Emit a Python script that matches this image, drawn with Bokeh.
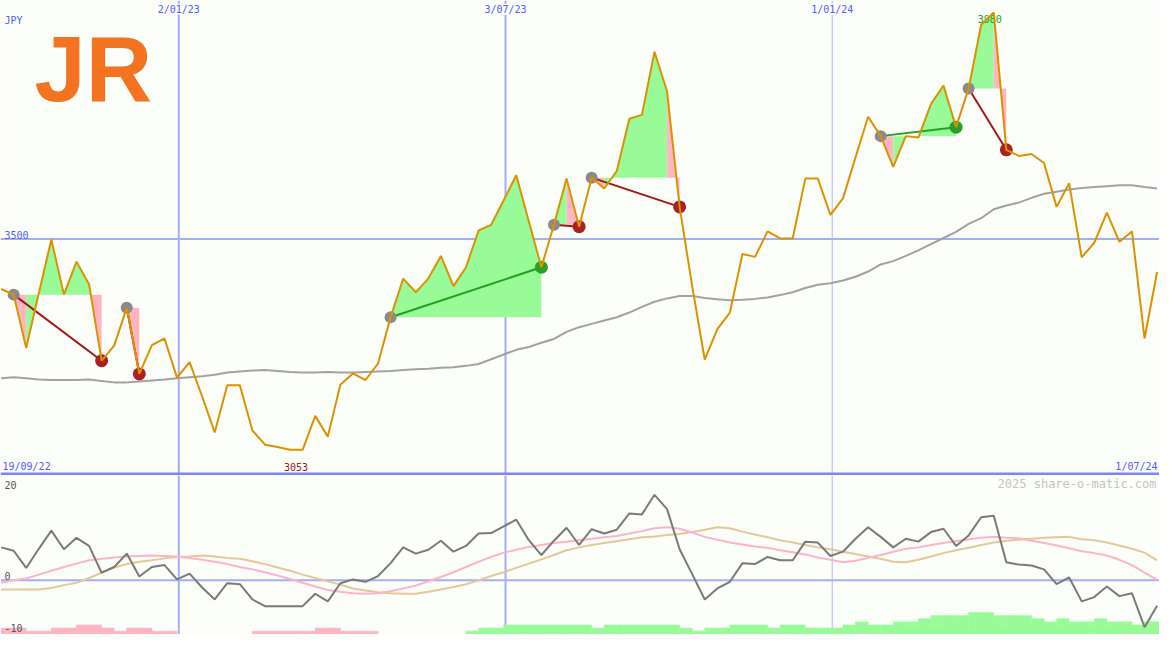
import numpy as np
import pandas as pd
from bokeh.plotting import figure
from bokeh.models import Range1d, Span, Label
from bokeh.layouts import column
from bokeh.embed import file_html
from bokeh.resources import INLINE
from bokeh.core.properties import value

# ---------------- data ----------------
dates = pd.date_range("2022-09-25", periods=93, freq="7D")

price = [3394, 3382, 3269, 3385, 3499, 3382, 3452, 3404, 3242, 3274,
         3354, 3214, 3275, 3289, 3206, 3239, 3166, 3090, 3190, 3190,
         3094, 3064, 3059, 3053, 3053, 3125, 3081, 3191, 3215, 3201,
         3236, 3334, 3416, 3387, 3416, 3464, 3400, 3440, 3518, 3530,
         3582, 3635, 3537, 3440, 3530, 3628, 3526, 3630, 3607, 3644,
         3755, 3763, 3897, 3813, 3568, 3400, 3244, 3309, 3344, 3468,
         3462, 3516, 3501, 3501, 3628, 3628, 3551, 3586, 3673, 3759,
         3718, 3653, 3718, 3715, 3786, 3825, 3737, 3819, 3954, 3980,
         3689, 3676, 3680, 3661, 3568, 3618, 3461, 3492, 3556, 3494,
         3516, 3289, 3430]

ma52 = [3205, 3207, 3205, 3202, 3201, 3201, 3201, 3202, 3199, 3196,
        3196, 3198, 3200, 3202, 3205, 3207, 3209, 3212, 3217, 3219,
        3221, 3222, 3220, 3218, 3217, 3217, 3218, 3217, 3217, 3218,
        3219, 3220, 3222, 3224, 3225, 3227, 3228, 3231, 3235, 3245,
        3255, 3265, 3271, 3280, 3288, 3303, 3313, 3320, 3327, 3334,
        3344, 3356, 3367, 3374, 3379, 3379, 3375, 3372, 3370, 3371,
        3373, 3376, 3381, 3387, 3396, 3403, 3406, 3412, 3420, 3431,
        3446, 3453, 3464, 3476, 3489, 3502, 3515, 3532, 3544, 3563,
        3571, 3577, 3587, 3596, 3600, 3605, 3608, 3610, 3612, 3614,
        3614, 3610, 3607]

osc = [6.9, 6.2, 2.6, 6.6, 10.4, 6.5, 8.9, 7.2, 1.6, 2.8,
       5.6, 0.8, 2.8, 3.2, 0.2, 1.4, -1.5, -4.0, -0.6, -0.8,
       -4.0, -5.4, -5.4, -5.4, -5.4, -2.8, -4.4, -0.6, 0.2, -0.3,
       0.9, 3.6, 6.9, 5.6, 6.4, 8.3, 6.0, 7.2, 9.8, 9.9,
       11.3, 12.7, 8.4, 5.3, 8.3, 11.0, 7.4, 10.7, 9.8, 10.6,
       14.0, 13.8, 17.9, 14.9, 6.5, 1.3, -4.0, -1.7, -0.3, 3.6,
       3.4, 4.9, 4.2, 4.2, 8.1, 7.9, 5.1, 6.0, 8.7, 11.1,
       9.1, 6.9, 8.7, 8.1, 10.1, 10.8, 7.2, 9.4, 13.2, 13.5,
       3.8, 3.3, 3.1, 2.3, -0.8, 0.6, -4.4, -3.5, -1.3, -3.3,
       -2.7, -9.8, -5.3]

osc_fast = [-0.5, 0.0, 0.4, 1.2, 2.0, 2.8, 3.5, 4.2, 4.5, 4.8,
            5.0, 5.1, 5.2, 5.1, 5.0, 4.7, 4.3, 3.9, 3.4, 2.8,
            2.3, 1.7, 1.0, 0.3, -0.5, -1.3, -2.0, -2.4, -2.7, -2.8,
            -2.7, -2.3, -1.7, -1.1, -0.2, 0.7, 1.7, 2.8, 3.9, 4.9,
            5.8, 6.4, 7.0, 7.4, 7.8, 8.1, 8.4, 8.7, 9.0, 9.3,
            9.8, 10.3, 10.9, 11.1, 10.8, 10.0, 9.1, 8.5, 7.9, 7.5,
            7.1, 6.8, 6.3, 5.9, 5.4, 4.8, 4.3, 3.8, 4.1, 4.7,
            5.3, 6.0, 6.6, 6.9, 7.4, 7.8, 8.2, 8.6, 8.9, 9.1,
            8.9, 8.8, 8.3, 7.8, 7.3, 6.7, 6.1, 5.7, 5.2, 4.3,
            3.2, 1.6, 0.1]

osc_slow = [-1.9, -1.9, -1.9, -1.9, -1.6, -1.0, -0.5, 0.5, 1.6, 2.7,
            3.4, 3.9, 4.2, 4.6, 4.9, 5.0, 5.2, 5.0, 4.7, 4.5,
            4.0, 3.4, 2.7, 2.0, 1.2, 0.5, -0.2, -0.9, -1.7, -2.1,
            -2.5, -2.7, -2.8, -2.8, -2.4, -1.9, -1.4, -0.8, 0.0, 0.9,
            1.7, 2.6, 3.5, 4.4, 5.3, 6.3, 6.9, 7.4, 7.8, 8.2,
            8.6, 9.0, 9.2, 9.5, 9.7, 10.1, 10.6, 11.1, 10.9, 10.2,
            9.6, 9.0, 8.4, 7.9, 7.4, 6.9, 6.5, 6.0, 5.5, 5.0,
            4.5, 3.9, 3.8, 4.3, 5.0, 5.7, 6.3, 6.8, 7.4, 7.9,
            8.3, 8.5, 8.7, 8.9, 9.0, 9.1, 8.6, 8.4, 7.9, 7.3,
            6.6, 5.8, 4.2]

# signed histogram levels (+ green, - pink)
osc_bars = [-2, -2, -1, -1, -2, -2, -3, -3, -2, -1,
            -2, -2, -1, -1, 0, 0, 0, 0, 0, 0,
            -1, -1, -1, -1, -1, -2, -2, -1, -1, -1,
            0, 0, 0, 0, 0, 0, 0, 1, 2, 2,
            3, 3, 3, 3, 3, 3, 3, 2, 3, 3,
            3, 3, 3, 3, 2, 1, 2, 2, 3, 3,
            3, 2, 3, 3, 2, 2, 2, 3, 4, 3,
            3, 4, 4, 5, 6, 6, 6, 7, 7, 6,
            6, 6, 5, 4, 5, 4, 4, 5, 4, 4,
            3, 4, 4]

pat_start = [1, 10, 31, 44, 47, 70, 77]
pat_end = [8, 11, 43, 46, 54, 76, 80]

grid_dates = ["2023-01-02", "2023-07-03", "2024-01-01"]
grid_labels = ["2/01/23", "3/07/23", "1/01/24"]
first_label = "19/09/22"
last_label = "1/07/24"
price_ticks = [3500]
osc_ticks = [20, 0, -10]
currency = "JPY"
watermark = "2025 share-o-matic.com"

# ---------------- style ----------------
BG = "#fcfefa"
ORANGE = "#da9200"
GREENFILL = "#98fb98"
PINKFILL = "#ffb6c1"
MA_COL = "#a2a2a2"
DOT_GRAY = "#8a8a8a"
DOT_RED = "#a82222"
DOT_GREEN = "#28a028"
LINE_RED = "#a01818"
LINE_GREEN = "#22a022"
GRID = "#a3aef4"
GRID_THIN = "#b2b8e6"
SEP = "#7b87ee"
TXT_BLUE = "#5060f0"
OSC_GRAY = "#7a7a7a"
OSC_PINK = "#ffb3c8"
OSC_TAN = "#e3c999"
MONO = "DejaVu Sans Mono"

W = 1159
HT = 475
HB = 159
REF_T = 487.0
DAY = 86400000.0
WEEK = 7 * DAY

def ms(d):
    return pd.Timestamp(d).value / 1e6

def sy_top(yref):
    return (REF_T - yref) * HT / REF_T

x = [ms(d) for d in dates]
xr = Range1d(start=ms("2022-09-24 16:00"), end=ms("2024-07-01 08:00"))

def mkfig(h, yr):
    p = figure(width=W, height=h, x_range=xr, y_range=yr,
               x_axis_location=None, y_axis_location=None,
               toolbar_location=None, output_backend="svg", min_border=0,
               background_fill_color=BG, border_fill_color=BG,
               outline_line_color=None)
    p.grid.visible = False
    return p

# ---------------- top panel ----------------
y_lo, y_hi = 2998.6, 4005.5
p1 = mkfig(HT, Range1d(y_lo, y_hi))

for gd, w in zip(grid_dates, [2, 2, 1]):
    p1.add_layout(Span(location=ms(gd), dimension="height",
                       line_color=GRID if w == 2 else GRID_THIN,
                       line_width=w, level="underlay"))
for t in price_ticks:
    p1.add_layout(Span(location=t, dimension="width", line_color=GRID,
                       line_width=2, level="underlay"))

# pattern fills: runs of equal colour merged into one polygon each
fxs, fys, fcol = [], [], []
for s, e in zip(pat_start, pat_end):
    base = price[s]
    cols = [price[k + 1] >= base for k in range(s, e)]
    a = s
    while a < e:
        b = a
        while b + 1 < e and cols[b + 1 - s] == cols[a - s]:
            b += 1
        pts = list(range(a, b + 2))
        fxs.append([x[a]] + [x[k] for k in pts] + [x[b + 1]])
        fys.append([base] + [price[k] for k in pts] + [base])
        fcol.append(GREENFILL if cols[a - s] else PINKFILL)
        a = b + 1
p1.patches(xs=fxs, ys=fys, fill_color=fcol, line_color=None)

p1.line(x, ma52, line_color=MA_COL, line_width=2)

sx = [x[s] for s in pat_start]
sy = [price[s] for s in pat_start]
ex = [x[e] for e in pat_end]
ey = [price[e] for e in pat_end]
up = [price[e] > price[s] for s, e in zip(pat_start, pat_end)]
p1.segment(x0=sx, y0=sy, x1=ex, y1=ey,
           line_color=[LINE_GREEN if u else LINE_RED for u in up], line_width=2)
p1.scatter(sx, sy, size=12, fill_color=DOT_GRAY, line_color=None)
p1.scatter(ex, ey, size=13, fill_color=[DOT_GREEN if u else DOT_RED for u in up],
           line_color=None)

imin = int(np.argmin(price))
imax = int(np.argmax(price))
p1.text(x=[x[imax]], y=[price[imax]], text=[str(price[imax])], x_offset=-4,
        y_offset=2, text_align="center", text_baseline="top",
        text_font=value(MONO), text_font_size="10px", text_color=LINE_GREEN)

p1.line(x, price, line_color=ORANGE, line_width=2)

# labels
for gd, gl in zip(grid_dates, grid_labels):
    p1.add_layout(Label(x=ms(gd), y=sy_top(9), y_units="screen", text=gl,
                        text_align="center", text_baseline="middle",
                        text_font=MONO, text_font_size="10px",
                        text_color=TXT_BLUE, background_fill_color=BG))
p1.add_layout(Label(x=4, y=sy_top(20), x_units="screen", y_units="screen",
                    text=currency, text_baseline="middle", text_font=MONO,
                    text_font_size="10px", text_color=TXT_BLUE))
for t in price_ticks:
    p1.add_layout(Label(x=4, y=t, x_units="screen", text=str(t),
                        text_baseline="bottom", text_font=MONO,
                        text_font_size="10px", text_color=TXT_BLUE))
p1.add_layout(Label(x=2, y=sy_top(478), x_units="screen", y_units="screen",
                    text=first_label, text_baseline="middle", text_font=MONO,
                    text_font_size="10px", text_color=TXT_BLUE))
p1.add_layout(Label(x=W - 2, y=sy_top(478), x_units="screen", y_units="screen",
                    text=last_label, text_align="right", text_baseline="middle",
                    text_font=MONO, text_font_size="10px", text_color=TXT_BLUE))
p1.add_layout(Label(x=x[imin], x_offset=6, y=sy_top(478), y_units="screen",
                    text=str(price[imin]), text_align="center",
                    text_baseline="middle", text_font=MONO,
                    text_font_size="10px", text_color=LINE_RED))

# logo
p1.add_layout(Label(x=34, y=sy_top(70), x_units="screen", y_units="screen",
                    text="JR", text_font="Liberation Sans", text_font_style="bold",
                    text_font_size="92px", text_color="#f47321",
                    text_baseline="alphabetic"))

# separator
p1.add_layout(Span(location=y_lo + 1.5 * (y_hi - y_lo) / HT, dimension="width",
                   line_color=SEP, line_width=3))

# ---------------- bottom panel ----------------
p2 = mkfig(HB, Range1d(-11.33, 21.94))
p2.extra_y_ranges = {"bars": Range1d(0, 163 / 3.2)}

bl, br, bt, bc = [], [], [], []
for k, b in enumerate(osc_bars):
    if b != 0:
        bl.append(x[k])
        br.append(x[k] + WEEK)
        bt.append(abs(b) + 0.05)
        bc.append(GREENFILL if b > 0 else PINKFILL)
p2.quad(left=bl, right=br, bottom=0, top=bt, fill_color=bc, line_color=bc,
        line_width=0.6, y_range_name="bars")

for gd, w in zip(grid_dates, [2, 2, 1]):
    p2.add_layout(Span(location=ms(gd), dimension="height",
                       line_color=GRID if w == 2 else GRID_THIN,
                       line_width=w, level="underlay"))
p2.add_layout(Span(location=0, dimension="width", line_color=GRID,
                   line_width=2, level="underlay"))

p2.line(x, osc_slow, line_color=OSC_TAN, line_width=2)
p2.line(x, osc_fast, line_color=OSC_PINK, line_width=2)
p2.line(x, osc, line_color=OSC_GRAY, line_width=2)

for t in osc_ticks:
    p2.add_layout(Label(x=4, y=t, x_units="screen", text=str(t),
                        text_baseline="bottom" if t == 0 else "middle",
                        text_font=MONO, text_font_size="10px",
                        text_color="#555555"))
p2.add_layout(Label(x=W - 3, y=HB - 8, x_units="screen", y_units="screen",
                    text=watermark, text_align="right", text_baseline="middle",
                    text_font=MONO, text_font_size="12px",
                    text_color="#c4c4c4"))

layout = column(p1, p2, spacing=0)
open("out.html", "w").write(file_html(layout, INLINE, title="JR"))
